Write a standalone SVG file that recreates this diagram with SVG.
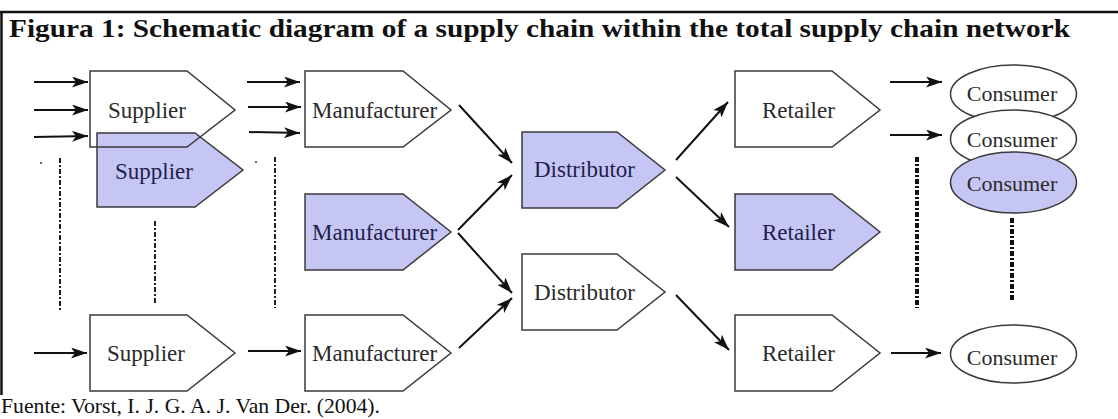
<svg xmlns="http://www.w3.org/2000/svg" width="1118" height="419" viewBox="0 0 1118 419">
  <defs>
    <marker id="arrow" viewBox="0 0 16 11" refX="16" refY="5.5" markerWidth="16" markerHeight="11" markerUnits="userSpaceOnUse" orient="auto">
      <path d="M0,0 L16,5.5 L0,11 L4,5.5 z" fill="#111"/>
    </marker>
    <style>
      .frame { stroke: #111; stroke-width: 2.5; fill: none; }
      .title { font-family: "Liberation Serif", "Times New Roman", serif; font-weight: bold; font-size: 26px; fill: #111; }
      .source { font-family: "Liberation Serif", "Times New Roman", serif; font-size: 21px; fill: #111; }
      .shape { stroke: #3a3a3a; stroke-width: 1.5; fill: #ffffff; }
      .open { fill: none; }
      .blue { fill: #c6c6f5; }
      .label { font-family: "Liberation Serif", "Times New Roman", serif; font-size: 23px; fill: #2a2a2a; }
      .blabel { fill: #1e1e4a; }
      .clabel { font-family: "Liberation Serif", "Times New Roman", serif; font-size: 22px; fill: #2a2a2a; text-anchor: middle; }
      .flow { stroke: #111; stroke-width: 2; fill: none; marker-end: url(#arrow); }
      .more { stroke: #222; stroke-width: 2; fill: none; stroke-dasharray: 5 2 2 2; }
      .more-bold { stroke: #111; stroke-width: 4; fill: none; stroke-dasharray: 5 2 2 2; }
    </style>
  </defs>

  <rect width="1118" height="419" fill="#ffffff"/>

  <!-- figure frame -->
  <line class="frame" x1="0" y1="12" x2="1118" y2="12"/>
  <line class="frame" x1="1.5" y1="12" x2="1.5" y2="395"/>

  <text class="title" x="9" y="37" textLength="1061" lengthAdjust="spacingAndGlyphs">Figura 1: Schematic diagram of a supply chain within the total supply chain network</text>

  <!-- suppliers -->
  <g id="supplier-blue">
    <polygon class="shape blue" points="97,133 195,133 243,170 195,207 97,207"/>
    <text class="label blabel" x="115" y="179">Supplier</text>
  </g>
  <g id="supplier-top">
    <polygon class="shape open" points="90,71 187,71 235,110 187,147 90,147"/>
    <text class="label" x="108" y="118">Supplier</text>
  </g>
  <g id="supplier-bottom">
    <polygon class="shape" points="90,315 187,315 235,353 187,391 90,391"/>
    <text class="label" x="107" y="361">Supplier</text>
  </g>

  <!-- manufacturers -->
  <g id="manufacturer-top">
    <polygon class="shape" points="305,71 403,71 451,110 403,147 305,147"/>
    <text class="label" x="312" y="118">Manufacturer</text>
  </g>
  <g id="manufacturer-blue">
    <polygon class="shape blue" points="305,194 403,194 451,232 403,270 305,270"/>
    <text class="label blabel" x="312" y="240">Manufacturer</text>
  </g>
  <g id="manufacturer-bottom">
    <polygon class="shape" points="305,315 403,315 451,353 403,391 305,391"/>
    <text class="label" x="312" y="361">Manufacturer</text>
  </g>

  <!-- distributors -->
  <g id="distributor-blue">
    <polygon class="shape blue" points="522,132 617,132 665,170 617,208 522,208"/>
    <text class="label blabel" x="534" y="177">Distributor</text>
  </g>
  <g id="distributor-white">
    <polygon class="shape" points="522,254 617,254 665,292 617,330 522,330"/>
    <text class="label" x="534" y="300">Distributor</text>
  </g>

  <!-- retailers -->
  <g id="retailer-top">
    <polygon class="shape" points="735,71 832,71 880,110 832,147 735,147"/>
    <text class="label" x="762" y="118">Retailer</text>
  </g>
  <g id="retailer-blue">
    <polygon class="shape blue" points="735,194 832,194 880,232 832,270 735,270"/>
    <text class="label blabel" x="762" y="240">Retailer</text>
  </g>
  <g id="retailer-bottom">
    <polygon class="shape" points="735,315 832,315 880,353 832,391 735,391"/>
    <text class="label" x="762" y="361">Retailer</text>
  </g>

  <!-- consumers -->
  <g id="consumer-1">
    <ellipse class="shape" cx="1013.5" cy="94" rx="63" ry="29"/>
    <text class="clabel" x="1012" y="101">Consumer</text>
  </g>
  <g id="consumer-2">
    <ellipse class="shape" cx="1013.5" cy="139" rx="63" ry="29"/>
    <text class="clabel" x="1012" y="147">Consumer</text>
  </g>
  <g id="consumer-blue">
    <ellipse class="shape blue" cx="1013.5" cy="182.5" rx="63" ry="30.5"/>
    <text class="clabel blabel" x="1012" y="191">Consumer</text>
  </g>
  <g id="consumer-bottom">
    <ellipse class="shape" cx="1013.5" cy="354" rx="63" ry="29"/>
    <text class="clabel" x="1012" y="365">Consumer</text>
  </g>

  <!-- connectors -->
  <g id="connectors">
    <line class="flow" x1="34" y1="82" x2="88" y2="82"/>
    <line class="flow" x1="34" y1="110" x2="88" y2="110"/>
    <line class="flow" x1="34" y1="137" x2="88" y2="136"/>
    <line class="flow" x1="34" y1="353" x2="87" y2="353"/>

    <line class="flow" x1="247" y1="82" x2="300" y2="82"/>
    <line class="flow" x1="248" y1="107" x2="301" y2="107"/>
    <line class="flow" x1="249" y1="132" x2="300" y2="133"/>
    <line class="flow" x1="248" y1="351" x2="301" y2="351"/>

    <line class="flow" x1="459" y1="105" x2="512" y2="163"/>
    <line class="flow" x1="458" y1="230" x2="512" y2="175"/>
    <line class="flow" x1="458" y1="233" x2="512" y2="293"/>
    <line class="flow" x1="459" y1="348" x2="512" y2="298"/>

    <line class="flow" x1="676" y1="160" x2="728" y2="102"/>
    <line class="flow" x1="676" y1="177" x2="729" y2="227"/>
    <line class="flow" x1="676" y1="295" x2="729" y2="350"/>

    <line class="flow" x1="890" y1="82" x2="942" y2="82"/>
    <line class="flow" x1="890" y1="135" x2="942" y2="135"/>
    <line class="flow" x1="891" y1="353" x2="941" y2="353"/>

    <!-- continuation marks -->
    <line class="more" x1="60" y1="158" x2="60" y2="311"/>
    <line class="more" x1="155" y1="221" x2="155" y2="304"/>
    <line class="more" x1="275" y1="157" x2="275" y2="308"/>
    <line class="more-bold" x1="917" y1="157" x2="917" y2="308"/>
    <line class="more-bold" x1="1012" y1="218" x2="1012" y2="300"/>
    <circle cx="41" cy="163" r="1" fill="#333"/>
    <circle cx="256" cy="162" r="1" fill="#333"/>
  </g>

  <text class="source" x="1" y="413" textLength="379" lengthAdjust="spacingAndGlyphs">Fuente: Vorst, I. J. G. A. J. Van Der. (2004).</text>
</svg>
